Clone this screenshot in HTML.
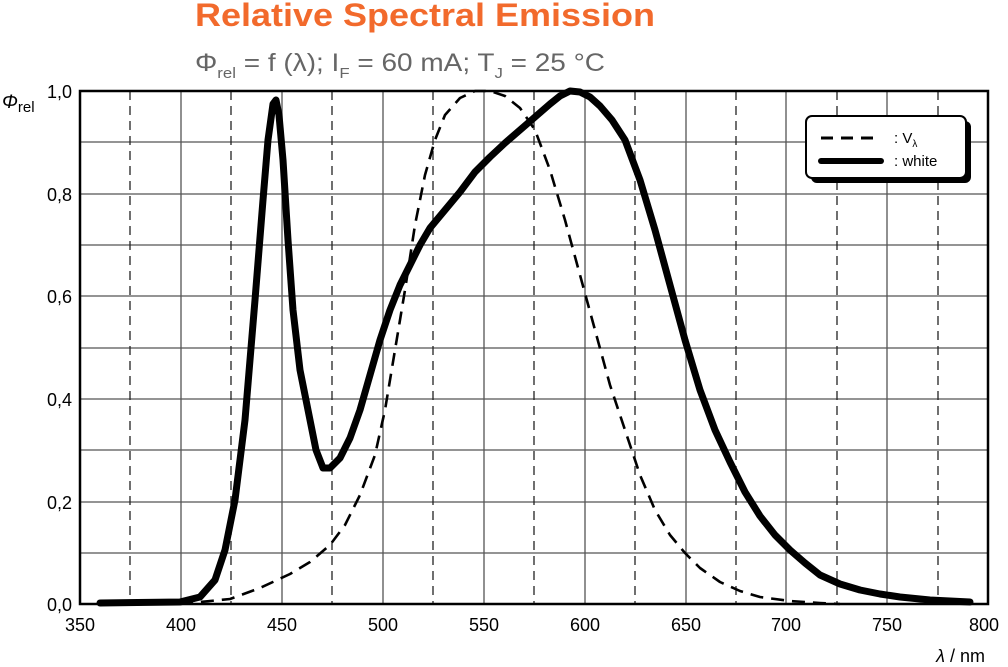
<!DOCTYPE html>
<html><head><meta charset="utf-8"><style>
body{margin:0;background:#fff;}
svg{display:block;font-family:"Liberation Sans",sans-serif;}
</style></head><body>
<svg width="1008" height="667" viewBox="0 0 1008 667">
<text x="195" y="26" font-size="32" font-weight="bold" fill="#f26a2c" textLength="460" lengthAdjust="spacingAndGlyphs">Relative Spectral Emission</text>
<text x="195" y="71" font-size="25" fill="#666" textLength="410" lengthAdjust="spacingAndGlyphs">Φ<tspan font-size="15" dy="7">rel</tspan><tspan dy="-7"> = f (λ); I</tspan><tspan font-size="15" dy="7">F</tspan><tspan dy="-7"> = 60 mA; T</tspan><tspan font-size="15" dy="7">J</tspan><tspan dy="-7"> = 25 °C</tspan></text>
<g stroke="#555" stroke-width="1.3">
<line x1="80" x2="988" y1="142" y2="142"/><line x1="80" x2="988" y1="194" y2="194"/><line x1="80" x2="988" y1="245" y2="245"/><line x1="80" x2="988" y1="296" y2="296"/><line x1="80" x2="988" y1="348" y2="348"/><line x1="80" x2="988" y1="399" y2="399"/><line x1="80" x2="988" y1="450" y2="450"/><line x1="80" x2="988" y1="502" y2="502"/><line x1="80" x2="988" y1="553" y2="553"/>
<line x1="181" x2="181" y1="91" y2="604"/><line x1="282" x2="282" y1="91" y2="604"/><line x1="383" x2="383" y1="91" y2="604"/><line x1="484" x2="484" y1="91" y2="604"/><line x1="585" x2="585" y1="91" y2="604"/><line x1="686" x2="686" y1="91" y2="604"/><line x1="786" x2="786" y1="91" y2="604"/><line x1="887" x2="887" y1="91" y2="604"/>
</g>
<g stroke="#222" stroke-width="1.3" stroke-dasharray="9,6">
<line x1="130" x2="130" y1="91" y2="604"/><line x1="231" x2="231" y1="91" y2="604"/><line x1="332" x2="332" y1="91" y2="604"/><line x1="433" x2="433" y1="91" y2="604"/><line x1="534" x2="534" y1="91" y2="604"/><line x1="635" x2="635" y1="91" y2="604"/><line x1="736" x2="736" y1="91" y2="604"/><line x1="837" x2="837" y1="91" y2="604"/><line x1="938" x2="938" y1="91" y2="604"/>
</g>
<rect x="80" y="91" width="908" height="513" fill="none" stroke="#000" stroke-width="2.5"/>
<polyline fill="none" stroke="#000" stroke-width="2.6" stroke-linejoin="round" stroke-dasharray="13,8" points="180,604 230,599 260,588 290,574 310,562 330,545 345,525 360,495 375,455 385,410 395,350 405,290 415,225 425,175 435,140 445,115 460,98 475,91 490,91 505,96 520,108 535,130 550,170 565,220 580,275 595,330 610,385 625,430 640,475 655,510 670,535 685,553 700,568 720,582 740,591 760,597 790,601 820,603 840,604"/>
<polyline fill="none" stroke="#000" stroke-width="7" stroke-linejoin="round" stroke-linecap="round" points="100,603 180,602 200,597 215,580 225,550 235,500 245,420 255,300 263,200 268,140 273,104 276,100 279,115 283,160 288,240 293,310 300,370 308,410 316,450 323,468 330,468 340,458 350,438 360,410 370,375 380,340 390,310 400,285 410,265 420,245 430,228 445,210 460,192 475,172 490,157 505,143 520,130 535,117 550,104 560,96 570,91 580,92 590,97 600,106 612,120 625,140 640,180 655,230 670,285 685,340 700,390 715,430 730,462 745,492 760,516 775,535 790,550 805,563 820,575 840,584 860,590 880,594 900,597 930,600 970,602"/>
<rect x="811" y="121" width="160" height="62" rx="6" fill="#000"/>
<rect x="806" y="116" width="160" height="62" rx="6" fill="#fff" stroke="#000" stroke-width="2"/>
<line x1="821" x2="881" y1="138" y2="138" stroke="#000" stroke-width="3" stroke-dasharray="12,8"/>
<line x1="821" x2="881" y1="161" y2="161" stroke="#000" stroke-width="6" stroke-linecap="round"/>
<text x="894" y="143" font-size="15">: V<tspan font-size="10" dy="4">λ</tspan></text>
<text x="894" y="166" font-size="15">: white</text>
<g font-size="18" text-anchor="end">
<text x="72" y="98">1,0</text><text x="72" y="201">0,8</text><text x="72" y="303">0,6</text><text x="72" y="406">0,4</text><text x="72" y="509">0,2</text><text x="72" y="611">0,0</text>
</g>
<g font-size="18" text-anchor="middle">
<text x="80" y="631">350</text><text x="181" y="631">400</text><text x="282" y="631">450</text><text x="383" y="631">500</text><text x="484" y="631">550</text><text x="585" y="631">600</text><text x="686" y="631">650</text><text x="786" y="631">700</text><text x="887" y="631">750</text><text x="984" y="631">800</text>
</g>
<text x="2" y="108" font-size="19" font-style="italic">Φ<tspan font-style="normal" font-size="15" dy="4">rel</tspan></text>
<text x="985" y="662" font-size="18" text-anchor="end"><tspan font-style="italic">λ</tspan> / nm</text>
</svg>
</body></html>
